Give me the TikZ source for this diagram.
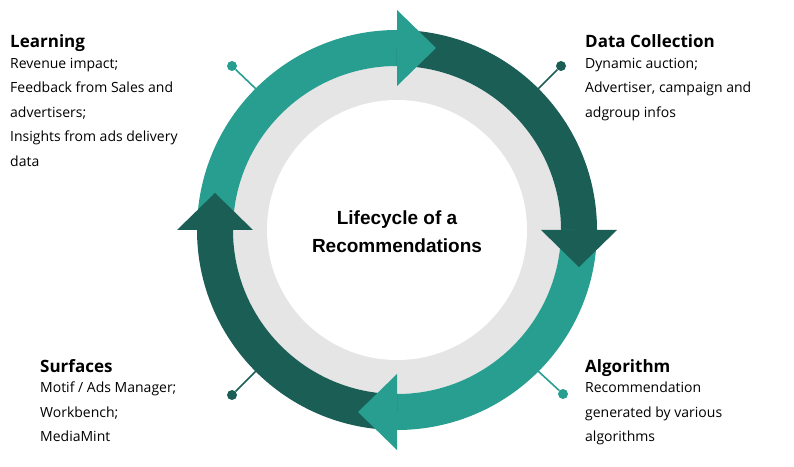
\documentclass[tikz,border=0pt]{standalone}
\usepackage{fontspec}
\setmainfont{Liberation Sans}
\newfontfamily\bodyf{Open Sans}
\definecolor{teal1}{HTML}{279E8F}
\definecolor{dark1}{HTML}{1A5E55}
\begin{document}
\begin{tikzpicture}[x=1pt,y=1pt,
  ring/.style={line width=36pt},
  pin/.style={line width=1.6pt},
  dot/.style={circle,inner sep=0pt,minimum size=10pt},
  head/.style={font=\bodyf\fontsize{17}{20}\selectfont\bfseries,anchor=base west,inner sep=0pt},
  body/.style={font=\bodyf\fontsize{14}{24.5}\selectfont,anchor=north west,align=left,inner sep=0pt}]
\useasboundingbox (0,0) rectangle (794,466);
\coordinate (c) at (397,236);
% gray ring
\fill[gray!20] (c) circle (164);
\fill[white] (c) circle (130);
% pins
\coordinate (p1) at (256,377); \coordinate (p2) at (538,377);
\coordinate (p3) at (538,95); \coordinate (p4) at (256,95);
\node[dot,fill=teal1] (d1) at (232,400) {};
\node[dot,fill=dark1] (d2) at (561,400) {};
\node[dot,fill=teal1] (d3) at (563,72) {};
\node[dot,fill=dark1] (d4) at (232,71) {};
\draw[pin,teal1] (d1) -- (p1);
\draw[pin,dark1] (d2) -- (p2);
\draw[pin,teal1] (d3) -- (p3);
\draw[pin,dark1] (d4) -- (p4);
% arcs
\draw[ring,teal1] ([shift={(180:182)}]c) arc (180:90:182);
\draw[ring,dark1] ([shift={(90:182)}]c) arc (90:0:182);
\draw[ring,teal1] ([shift={(0:182)}]c) arc (0:-90:182);
\draw[ring,dark1] ([shift={(-90:182)}]c) arc (-90:-180:182);
% heads
\fill[teal1] (397,380) -- (397,456) -- (436,418) -- cycle;
\fill[dark1] (541,236) -- (617,236) -- (579,199) -- cycle;
\fill[teal1] (397,92) -- (397,16) -- (358,54) -- cycle;
\fill[dark1] (253,236) -- (177,236) -- (215,273) -- cycle;
% center
\node[font=\fontsize{19}{28}\selectfont\bfseries,align=center] (t) at (397,234) {Lifecycle of a\\Recommendations};
% texts
\node[head] (h1) at (10,418) {Learning};
\node[body] (b1) at (10,408) {Revenue impact;\\Feedback from Sales and\\advertisers;\\Insights from ads delivery\\data};
\node[head] (h2) at (585,418) {Data Collection};
\node[body] (b2) at (585,408) {Dynamic auction;\\Advertiser, campaign and\\adgroup infos};
\node[head] (h3) at (585,94) {Algorithm};
\node[body] (b3) at (585,84) {Recommendation\\generated by various\\algorithms};
\node[head] (h4) at (40,94) {Surfaces};
\node[body] (b4) at (40,84) {Motif / Ads Manager;\\Workbench;\\MediaMint};
\end{tikzpicture}
\end{document}
